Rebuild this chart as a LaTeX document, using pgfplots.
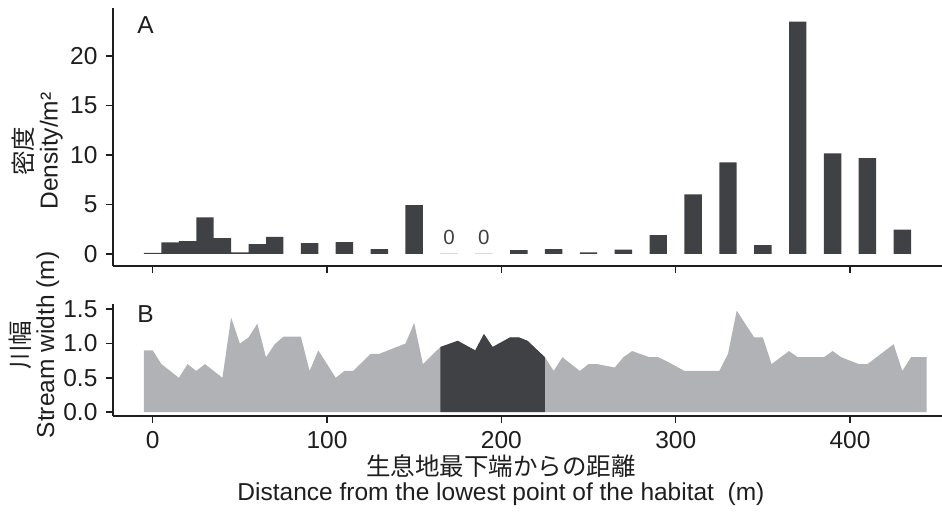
\documentclass[border=0pt]{standalone}
\usepackage{fontspec}
\setmainfont{Liberation Sans}
\newfontfamily\cjk{Noto Sans CJK JP}
\usepackage{pgfplots}
\pgfplotsset{compat=1.18}
\definecolor{bardark}{HTML}{404144}
\definecolor{arealight}{HTML}{B1B2B6}
\definecolor{zeroline}{HTML}{DADADA}
\definecolor{txt}{HTML}{1E1E1E}
\begin{document}
\fontsize{12.25}{12.5}\selectfont
\begin{tikzpicture}
\useasboundingbox (0,0) rectangle (471pt,255.5pt);
\pgfplotsset{
  every axis/.append style={
    scale only axis,
    axis x line*=bottom, axis y line*=left,
    axis line style={line width=1pt, -, txt},
    tick style={line width=0.8pt, txt},
    tick align=outside,
    major tick length=3.5pt,
    /pgf/number format/assume math mode=true,
    tick label style={font=\fontsize{12.25}{12.5}\selectfont, text=txt},
    label style={font=\fontsize{12.25}{12.5}\selectfont, text=txt, align=center},
    xmin=-22.77, xmax=452.76,
    xtick={0,100,200,300,400},
  }
}
% ---------- Panel A ----------
\begin{axis}[
  at={(56.5pt,122.65pt)}, anchor=south west,
  width=414.5pt, height=128.85pt,
  ymin=-1.21, ymax=24.87,
  ytick={0,5,10,15,20},
  xticklabels={},
  ylabel={{\cjk 密度}\\Density/m²},
  ylabel style={at={(axis description cs:-0.0913,0.445)}, anchor=center},
]
\addplot[ybar, bar width=10, fill=bardark, draw=none] coordinates {
  (0,0.10) (10,1.15) (20,1.29) (30,3.68) (40,1.59) (50,0.14) (60,0.98) (70,1.72)
  (90,1.08) (110,1.18) (130,0.48) (150,4.93)
  (210,0.37) (230,0.47) (250,0.14) (270,0.41) (290,1.89) (310,6.01) (330,9.25)
  (350,0.88) (370,23.5) (390,10.16) (410,9.69) (430,2.43)
};
\addplot[ybar, bar width=10, fill=zeroline, draw=zeroline, line width=0.6pt,
  nodes near coords,
  nodes near coords style={font=\fontsize{10.25}{12}\selectfont, text=txt!85, anchor=center, yshift=8pt}]
  coordinates {(170,0) (190,0)};
\node[font=\fontsize{12.25}{12.5}\selectfont, text=txt] at (axis cs:-4.1,23.1) {A};
\end{axis}
% ---------- Panel B ----------
\begin{axis}[
  at={(56.5pt,47.5pt)}, anchor=south west,
  width=414.5pt, height=56pt,
  ymin=-0.058, ymax=1.577,
  ytick={0,0.5,1,1.5},
  yticklabel style={/pgf/number format/.cd, fixed, fixed zerofill, precision=1},
  ylabel={{\cjk 川幅}\\Stream width (m)},
  ylabel style={at={(axis description cs:-0.0953,0.634)}, anchor=center},
  xlabel={{\cjk 生息地最下端からの距離}\\Distance from the lowest point of the habitat\ \ (m)},
  xlabel style={at={(axis description cs:0.468,-0.571)}, anchor=center},
]
\addplot[fill=arealight, draw=none] coordinates {
  (-5,0.9) (0,0.9) (5,0.7) (15,0.5) (20,0.7) (25,0.6) (30,0.7) (40,0.5) (45,1.38)
  (50,1.0) (55,1.09) (60,1.29) (65,0.8) (70,0.99) (75,1.1) (85,1.1) (90,0.6)
  (95,0.9) (105,0.5) (110,0.6) (115,0.6) (125,0.85) (130,0.85) (145,1.0)
  (150,1.3) (155,0.7) (165,0.95) (175,1.04) (185,0.9) (190,1.14) (195,0.95)
  (205,1.09) (210,1.09) (215,1.04) (220,0.92) (225,0.8) (230,0.6) (235,0.8)
  (245,0.6) (250,0.7) (255,0.7) (265,0.65) (270,0.8) (275,0.89) (285,0.8)
  (290,0.8) (295,0.74) (305,0.6) (325,0.6) (330,0.85) (335,1.48) (345,1.09)
  (350,1.09) (355,0.7) (365,0.89) (370,0.8) (385,0.8) (390,0.89) (395,0.8)
  (405,0.7) (410,0.7) (425,0.99) (430,0.6) (435,0.8) (444,0.8)
} \closedcycle;
\addplot[fill=bardark, draw=none] coordinates {
  (165,0.95) (175,1.04) (185,0.9) (190,1.14) (195,0.95)
  (205,1.09) (210,1.09) (215,1.04) (220,0.92) (225,0.8)
} \closedcycle;
\node[font=\fontsize{12.25}{12.5}\selectfont, text=txt] at (axis cs:-4.1,1.43) {B};
\end{axis}
\end{tikzpicture}
\end{document}
